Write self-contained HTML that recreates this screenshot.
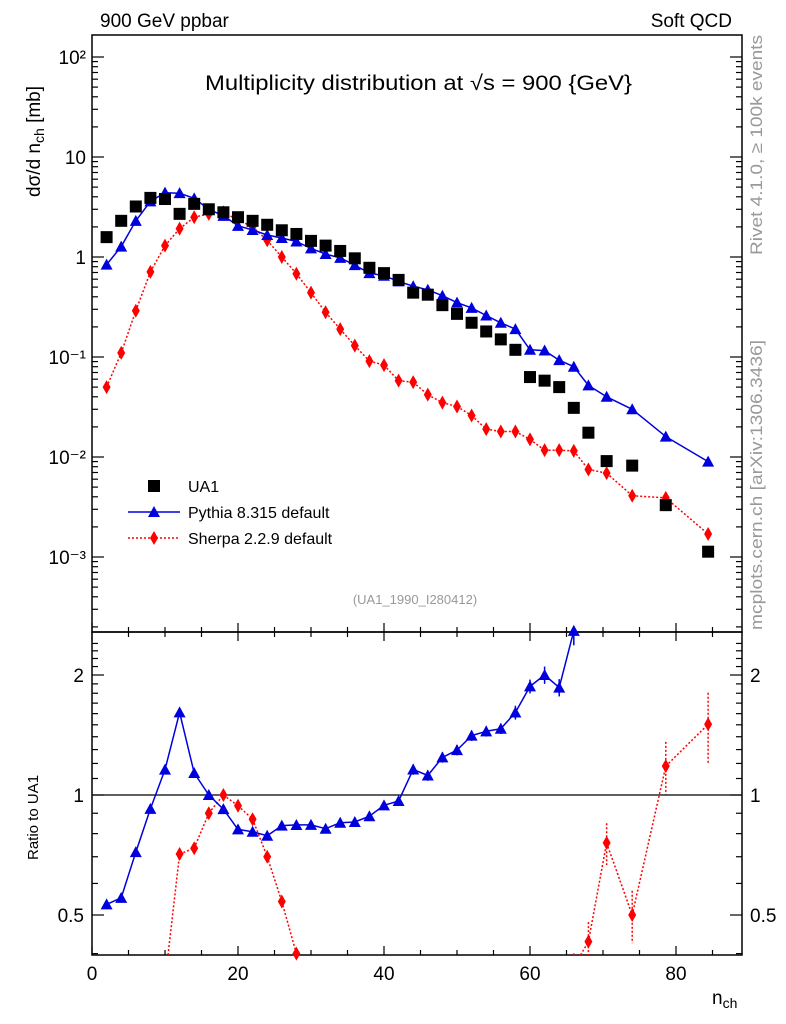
<!DOCTYPE html>
<html><head><meta charset="utf-8"><style>
html,body{margin:0;padding:0;background:#fff;overflow:hidden;width:786px;height:1024px;}
svg{display:block;}
svg text{font-family:"Liberation Sans","DejaVu Sans",sans-serif;}
</style></head><body>
<svg id="chart" width="786" height="1024" xmlns="http://www.w3.org/2000/svg">
<g id="main"></g>
<g id="ratio"></g>
<text x="100" y="27" font-size="19">900 GeV ppbar</text>
<text x="732" y="27" font-size="19" text-anchor="end">Soft QCD</text>
<text x="205" y="90" font-size="21" textLength="427" lengthAdjust="spacingAndGlyphs">Multiplicity distribution at √s = 900 {GeV}</text>
<text x="415" y="604" font-size="13" fill="#999" text-anchor="middle">(UA1_1990_I280412)</text>
<text transform="translate(762,255) rotate(-90)" font-size="17" fill="#999" textLength="220" lengthAdjust="spacingAndGlyphs">Rivet 4.1.0, ≥ 100k events</text>
<text transform="translate(762,630) rotate(-90)" font-size="17" fill="#999" textLength="290" lengthAdjust="spacingAndGlyphs">mcplots.cern.ch [arXiv:1306.3436]</text>
<text transform="translate(40,197) rotate(-90)" font-size="19">dσ/d n<tspan font-size="14" dy="4">ch</tspan><tspan dy="-4"> [mb]</tspan></text>
<text transform="translate(38,860) rotate(-90)" font-size="15">Ratio to UA1</text>
<text x="712" y="1004" font-size="19">n<tspan font-size="14" dy="4">ch</tspan></text>
<g>
<rect x="148" y="480" width="12" height="12" fill="#000"/>
<text x="188" y="492" font-size="16">UA1</text>
<line x1="128" y1="512" x2="180" y2="512" stroke="#0000dd" stroke-width="1.5"/>
<polygon points="154,506 160,517 148,517" fill="#0000dd"/>
<text x="188" y="518" font-size="16">Pythia 8.315 default</text>
<line x1="128" y1="538" x2="180" y2="538" stroke="#ff0000" stroke-width="1.5" stroke-dasharray="2,2"/>
<polygon points="154,531 158,538 154,545 150,538" fill="#ff0000"/>
<text x="188" y="544" font-size="16">Sherpa 2.2.9 default</text>
</g>
</svg>
<script>
const nch=[2,4,6,8,10,12,14,16,18,20,22,24,26,28,30,32,34,36,38,40,42,44,46,48,50,52,54,56,58,60,62,64,66,68,70.5,74,78.6,84.4];
const ua1=[1.58,2.3,3.2,3.9,3.8,2.7,3.4,3.0,2.8,2.5,2.3,2.1,1.85,1.7,1.45,1.3,1.15,0.97,0.78,0.69,0.59,0.44,0.42,0.33,0.27,0.22,0.18,0.15,0.118,0.063,0.058,0.05,0.031,0.0175,0.0091,0.0082,0.0033,0.00113];
const ua1RelErr=[0.02,0.02,0.02,0.02,0.02,0.02,0.02,0.02,0.02,0.02,0.02,0.02,0.02,0.02,0.02,0.02,0.02,0.02,0.02,0.02,0.02,0.03,0.03,0.03,0.03,0.03,0.03,0.03,0.04,0.04,0.05,0.05,0.08,0.12,0.12,0.15,0.15,0.2];
const pythia=[0.84,1.27,2.3,3.6,4.4,4.35,3.86,3.0,2.58,2.05,1.86,1.66,1.55,1.43,1.22,1.07,0.98,0.83,0.69,0.65,0.57,0.51,0.47,0.41,0.35,0.31,0.26,0.22,0.19,0.118,0.116,0.093,0.08,0.052,0.04,0.03,0.016,0.009];
const sherpa=[0.05,0.11,0.29,0.71,1.3,1.92,2.5,2.7,2.8,2.35,2.0,1.47,1.0,0.68,0.44,0.28,0.19,0.13,0.091,0.083,0.058,0.056,0.042,0.035,0.032,0.026,0.019,0.018,0.018,0.015,0.0117,0.0117,0.0115,0.0075,0.0069,0.0041,0.0039,0.0017];
const yTickLabels=["10⁻³","10⁻²","10⁻¹","1","10","10²"];
const ratioTicks=[0.5,1,2];

const NS="http://www.w3.org/2000/svg";
const X0=92,X1=742,T0=35,T1=632,R1=955;
const xs=v=>X0+v*7.3;
const ys=v=>257-100*Math.log10(v);
const rs=v=>795-120*Math.log2(v);
function mk(p,tag,at){const e=document.createElementNS(NS,tag);for(const k in at)e.setAttribute(k,at[k]);p.appendChild(e);return e;}
const main=document.getElementById('main'),ratio=document.getElementById('ratio');
let f=mk(main,'rect',{x:X0,y:T0,width:X1-X0,height:T1-T0,fill:'none',stroke:'#000','stroke-width':1.5});

f=mk(ratio,'rect',{x:X0,y:T1,width:X1-X0,height:R1-T1,fill:'none',stroke:'#000','stroke-width':1.5});

for(let v=0;v<=85;v+=5){const maj=v%20===0;const L=maj?9:5;const x=xs(v);
 for(const [a,b] of [[T1,T1-L],[T1,T1+L],[R1,R1-L]]){mk(main,'line',{x1:x,x2:x,y1:a,y2:b,stroke:'#000','stroke-width':1.2});}
 if(maj){const t=mk(ratio,'text',{x:x,y:980,'font-size':19,'text-anchor':'middle'});t.textContent=v;
 }}
for(let d=-4;d<=2;d++){for(let m=1;m<10;m++){const v=m*Math.pow(10,d);const y=ys(v);if(y<T0||y>T1)continue;const L=m===1?12:6;
 mk(main,'line',{x1:X0,x2:X0+L,y1:y,y2:y,stroke:'#000','stroke-width':1.2});
 mk(main,'line',{x1:X1,x2:X1-L,y1:y,y2:y,stroke:'#000','stroke-width':1.2});}}
yTickLabels.forEach((s,i)=>{const y=ys(Math.pow(10,i-3));const t=mk(main,'text',{x:X0-6,y:y+7,'font-size':19,'text-anchor':'end'});t.textContent=s;
 });
for(let v=0.4;v<=2.5;v+=0.1){const y=rs(v);if(y<T1||y>R1)continue;const maj=ratioTicks.some(r=>Math.abs(r-v)<1e-6);const L=maj?12:6;
 mk(ratio,'line',{x1:X0,x2:X0+L,y1:y,y2:y,stroke:'#000','stroke-width':1.2});mk(ratio,'line',{x1:X1,x2:X1-L,y1:y,y2:y,stroke:'#000','stroke-width':1.2});}
ratioTicks.forEach(v=>{const y=rs(v);for(const [x,a] of [[X0-8,'end'],[X1+8,'start']]){const t=mk(ratio,'text',{x:x,y:y+7,'font-size':19,'text-anchor':a});t.textContent=v;
 }});
mk(ratio,'line',{x1:X0,x2:X1,y1:rs(1),y2:rs(1),stroke:'#000','stroke-width':1.2});

// clip a segment to y range [lo,hi]
function clipSeg(x1,y1,x2,y2,lo,hi){
 let t0=0,t1=1;const dy=y2-y1;
 for(const [p,q] of [[-dy,y1-lo],[dy,hi-y1]]){
  if(p===0){if(q<0)return null;continue;}
  const r=q/p;if(p<0){if(r>t1)return null;if(r>t0)t0=r;}else{if(r<t0)return null;if(r<t1)t1=r;}}
 return [x1+t0*(x2-x1),y1+t0*dy,x1+t1*(x2-x1),y1+t1*dy];}
function series(g,vals,yf,color,dash,shape,name,lo,hi){
 let d='';
 for(let i=0;i<nch.length-1;i++){const s=clipSeg(xs(nch[i]),yf(vals[i]),xs(nch[i+1]),yf(vals[i+1]),lo,hi);
  if(s)d+=`M${s[0].toFixed(1)},${s[1].toFixed(1)}L${s[2].toFixed(1)},${s[3].toFixed(1)}`;}
 const pl=mk(g,'path',{d:d,fill:'none',stroke:color,'stroke-width':1.5,'stroke-dasharray':dash});
 
 nch.forEach((n,i)=>{const x=xs(n),y=yf(vals[i]);if(y<lo-4||y>hi+4)return;let p;
  if(shape==='tri')p=mk(g,'polygon',{points:`${x},${y-6} ${x+6},${y+5} ${x-6},${y+5}`,fill:color});
  else p=mk(g,'polygon',{points:`${x},${y-7} ${x+4},${y} ${x},${y+7} ${x-4},${y}`,fill:color});
  });}
const gm=mk(main,'g',{});
series(gm,sherpa,ys,'#ff0000','2,2','dia','sherpa',T0,T1);
series(gm,pythia,ys,'#0000dd','none','tri','pythia',T0,T1);
nch.forEach((n,i)=>{const r=mk(gm,'rect',{x:xs(n)-6,y:ys(ua1[i])-6,width:12,height:12,fill:'#000'});
 });
const gr=mk(ratio,'g',{});
const pr=pythia.map((v,i)=>v/ua1[i]),sr=sherpa.map((v,i)=>v/ua1[i]);
function errs(rv,color,dash){nch.forEach((n,i)=>{const x=xs(n),e=ua1RelErr[i]*rv[i];
 let a=Math.max(rs(rv[i]+e),T1),b=Math.min(rs(Math.max(rv[i]-e,0.01)),R1);if(a>=b)return;
 const l=mk(gr,'line',{x1:x,x2:x,y1:a,y2:b,stroke:color,'stroke-width':1.5,'stroke-dasharray':dash});
 });}
errs(sr,'#ff0000','2,2');errs(pr,'#0000dd','none');
series(gr,sr,rs,'#ff0000','2,2','dia','sherpa-ratio',T1,R1);
series(gr,pr,rs,'#0000dd','none','tri','pythia-ratio',T1,R1);
</script>
</body></html>
